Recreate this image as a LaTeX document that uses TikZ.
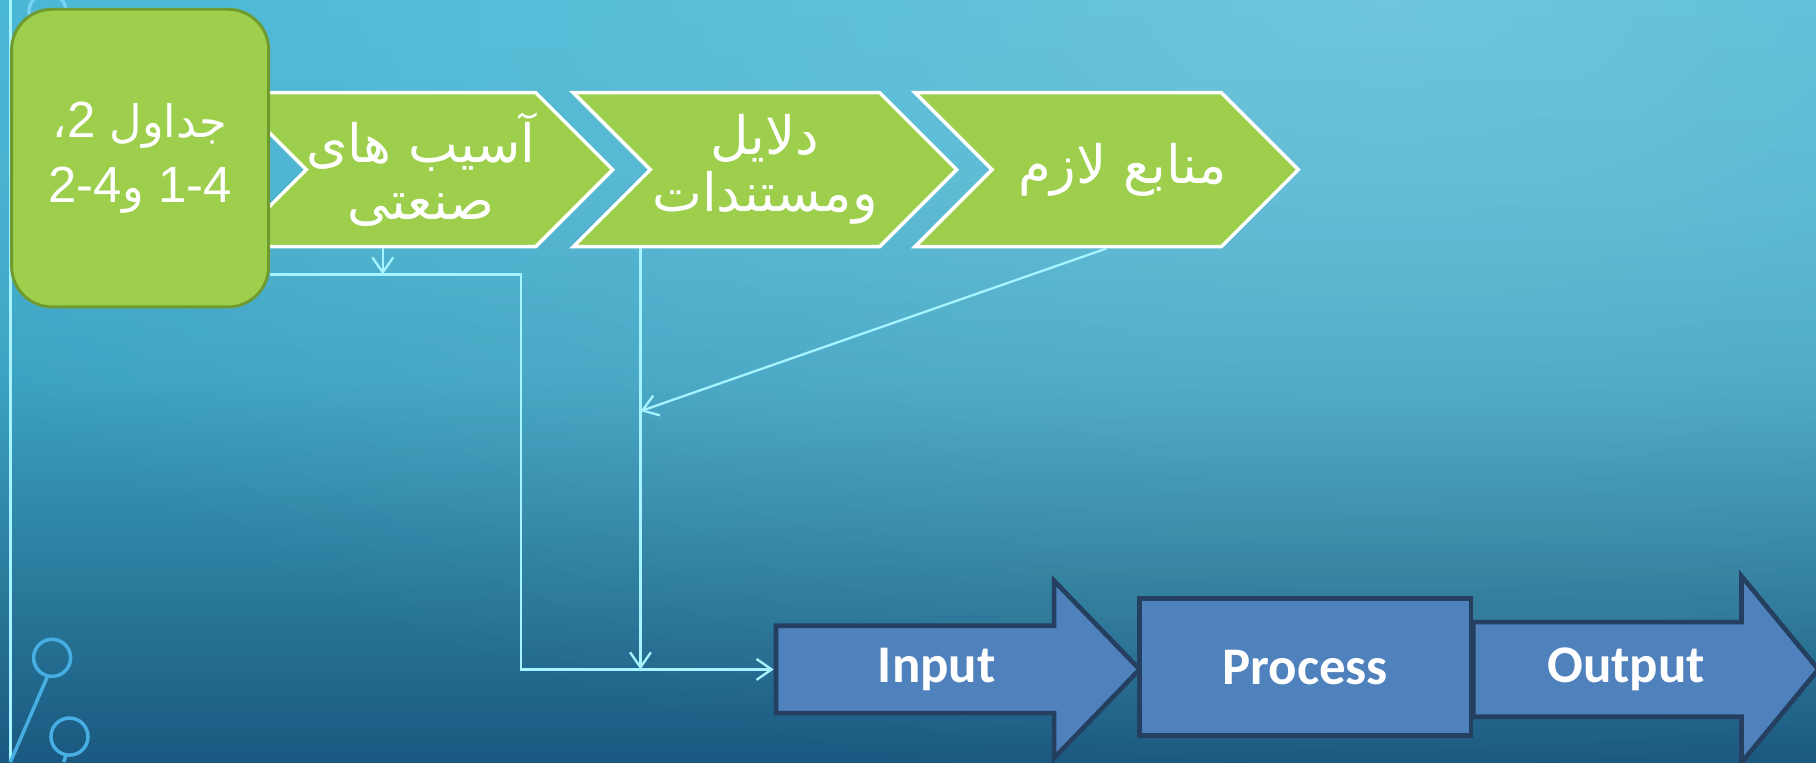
\documentclass[tikz,border=0pt]{standalone}
\usepackage{fontspec}
\usepackage{xcolor}
\usepackage{tikz}
\usetikzlibrary{shapes.symbols}
\usetikzlibrary{shapes.arrows}
\usetikzlibrary{arrows.meta}
\usetikzlibrary{fadings}
\TeXXeTstate=1
\newfontfamily\arabicfont[Script=Arabic]{DejaVu Sans}
\newfontfamily\latinfont{Liberation Sans}
\newfontfamily\labelfont{Carlito}
\definecolor{leaf}{HTML}{9DCF4D}
\definecolor{leafdark}{HTML}{6E9A2E}
\definecolor{wire}{HTML}{A6F4FF}
\definecolor{steel}{HTML}{4F81BD}
\definecolor{steeldark}{HTML}{243F60}
\definecolor{skytop}{HTML}{44B6D4}
\definecolor{skyhigh}{HTML}{44B0CE}
\definecolor{skymid}{HTML}{3CA2C1}
\definecolor{skylow}{HTML}{2A7B9C}
\definecolor{skybot}{HTML}{1A5880}
\definecolor{ring}{HTML}{47AEE4}
\pgfdeclareverticalshading{sky}{100bp}{color(0bp)=(skybot); color(25bp)=(skybot);
    color(37bp)=(skylow); color(50bp)=(skymid); color(62bp)=(skyhigh); color(75bp)=(skytop); color(100bp)=(skytop)}
\tikzfading[name=glow, inner color=transparent!0, outer color=transparent!100]
\newcommand{\digits}[1]{{\latinfont\fontsize{12.5}{16}\selectfont #1}}
\tikzset{
    chevron/.style={signal, signal from=west, signal to=east, signal pointer angle=90,
        fill=leaf, draw=white, line width=0.3mm, minimum width=33.1mm, minimum height=13.3mm,
        inner sep=0pt, text=white, align=center, font=\arabicfont\fontsize{13}{14}\selectfont},
    blockarrow/.style={single arrow, fill=steel, draw=steeldark, line width=0.4mm,
        inner sep=0pt, anchor=tail, text=white, font=\labelfont\bfseries\fontsize{13}{15}\selectfont},
    link/.style={wire, line width=0.2mm},
}

\begin{document}
\begin{tikzpicture}[x=0.1mm, y=-0.1mm, >={Straight Barb[length=1.3mm,width=1.8mm]}]
    \useasboundingbox (0,0) rectangle (1568,658);
    \shade[shading=sky] (0,0) rectangle (1568,658);
    \fill[white, fill opacity=0.22, path fading=glow] (1200,0) ellipse[x radius=1400, y radius=700];
    \draw[wire, line width=0.2mm] (9,0) -- (9,658);
    \draw[ring!50!wire, line width=0.3mm] (41,10) circle[radius=16];
    \draw[ring, line width=0.3mm] (45,568) circle[radius=16] (41,584) -- (9,658)
        (60,636) circle[radius=16] (57,652) -- (55,658);
    \foreach \nm/\cx/\txt in {
        harm/363.5/{\beginR آسیب های\endR\\\beginR صنعتی\endR},
        docs/660.5/{\beginR دلایل\endR\\\beginR ومستندات\endR},
        needs/955.5/{\hspace*{4.2mm}\makebox[0pt]{\beginR منابع لازم\endR}}
        } {
        \node[chevron] (\nm) at (\cx,146.5) {\txt};
    }
    \node[draw=leafdark, fill=leaf, line width=0.25mm, rounded corners=3.5mm,
        minimum width=22.2mm, minimum height=25.7mm, inner sep=0pt, text=white, align=center,
        font=\arabicfont\fontsize{11}{16}\selectfont] (tables) at (121,136.5)
        {\beginR جداول \beginL\digits{2}\endL،\endR\\
         \beginR\beginL\digits{1-4}\endL{} و\beginL\digits{2-4}\endL\endR};
    \node[blockarrow, minimum height=31.4mm, minimum width=15.3mm, single arrow head extend=2.1mm,
        single arrow tip angle=92] (input) at (668,578) {Input};
    \node[fill=steel, draw=steeldark, line width=0.4mm, minimum width=28.6mm, minimum height=11.8mm,
        text=white, font=\labelfont\bfseries\fontsize{13}{15}\selectfont] (process) at (1127,576) {Process};
    \node[blockarrow, minimum height=29.8mm, minimum width=16.1mm, single arrow head extend=2mm,
        single arrow tip angle=101] (output) at (1270,578) {Output};
    \coordinate (bend) at (450,237);
    \coordinate (harmfoot) at ([xshift=-3.3mm]harm.south);
    \coordinate (trunk) at ([xshift=-10.75mm]docs.south);
    \draw[link,->] (harmfoot) -- (harmfoot |- bend);
    \draw[link,->] (tables.east |- bend) -- (bend) |- (input.tail);
    \draw[link,->] (trunk) -- (trunk |- input.tail);
    \draw[link,->] (needs.south) -- (trunk |- 0,355);
\end{tikzpicture}
\end{document}
